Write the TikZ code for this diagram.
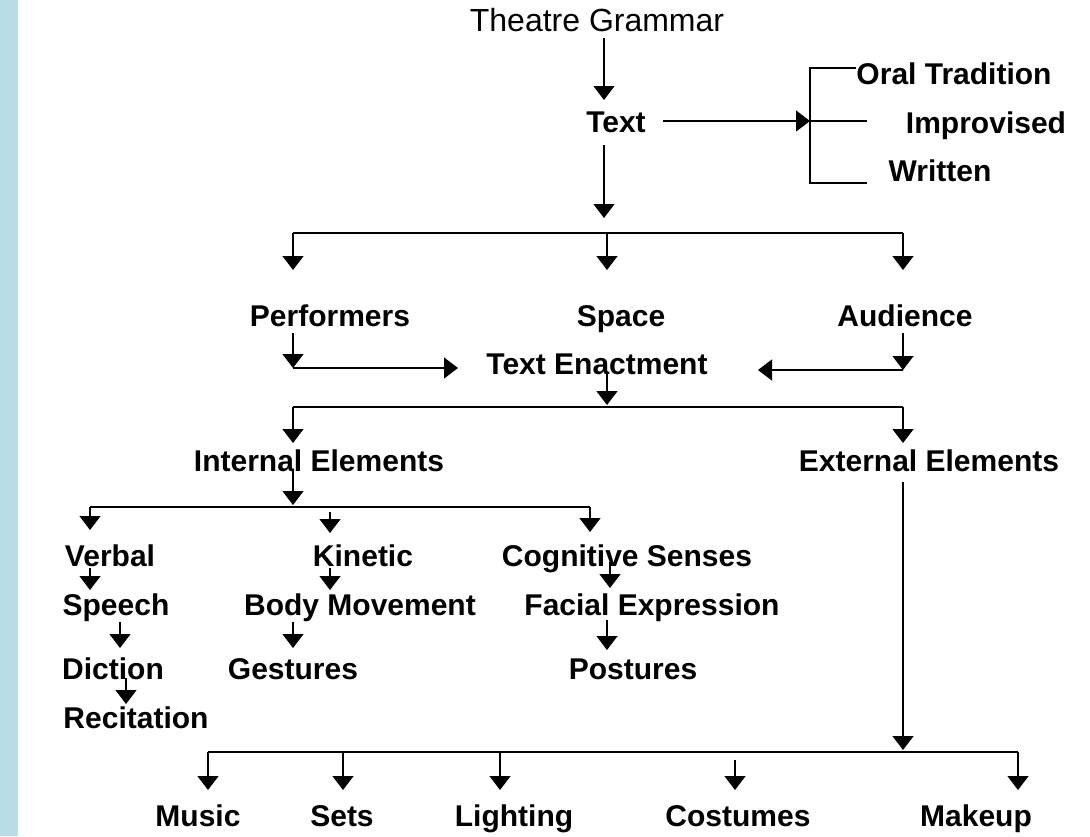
\documentclass[tikz,border=0pt]{standalone}
\usepackage{fontspec}
\setmainfont{Liberation Sans}
\usetikzlibrary{arrows.meta}
\definecolor{barblue}{RGB}{183,221,232}
\begin{document}
\begin{tikzpicture}[x=1pt,y=-1pt,
  lbl/.style={font=\fontsize{30}{30}\selectfont\bfseries, inner sep=0pt, anchor=base},
  plainlbl/.style={font=\fontsize{32}{32}\selectfont, inner sep=0pt, anchor=base},
  link/.style={line width=1.3pt, black},
  arr/.style={link, -{Triangle[length=14pt,width=21pt]}}]
\useasboundingbox (0,0) rectangle (1090,836);
\fill[barblue] (0,0) rectangle (18,836);

% labels
\node[plainlbl] (tg) at (597,31) {Theatre Grammar};
\node[lbl] (txt) at (616,132) {Text};
\node[lbl] (oral) at (954,84) {Oral Tradition};
\node[lbl] (impr) at (986,133) {Improvised};
\node[lbl] (writ) at (940,181) {Written};
\node[lbl] (perf) at (330,326) {Performers};
\node[lbl] (space) at (621,326) {Space};
\node[lbl] (aud) at (905,326) {Audience};
\node[lbl] (enact) at (597,374) {Text Enactment};
\node[lbl] (intl) at (319,471) {Internal Elements};
\node[lbl] (extl) at (929,471) {External Elements};
\node[lbl] (verbal) at (110,566) {Verbal};
\node[lbl] (kin) at (363,566) {Kinetic};
\node[lbl] (cog) at (627,566) {Cognitive Senses};
\node[lbl] (speech) at (116,615) {Speech};
\node[lbl] (body) at (360,615) {Body Movement};
\node[lbl] (facial) at (652,615) {Facial Expression};
\node[lbl] (diction) at (113,679) {Diction};
\node[lbl] (gest) at (293,679) {Gestures};
\node[lbl] (post) at (633,679) {Postures};
\node[lbl] (recit) at (136,728) {Recitation};
\node[lbl] (music) at (198,826) {Music};
\node[lbl] (sets) at (342,826) {Sets};
\node[lbl] (light) at (514,826) {Lighting};
\node[lbl] (cost) at (738,826) {Costumes};
\node[lbl] (make) at (976,826) {Makeup};

% junction points
\coordinate (tgOut) at (604,38);
\coordinate (txtIn) at (604,100);
\coordinate (txtR) at (663,121);
\coordinate (brM) at (810,121);
\coordinate (brT) at (810,68);
\coordinate (brB) at (810,183);
\coordinate (txtOut) at (604,145);
\coordinate (txtEnd) at (604,218);
\coordinate (busA) at (293,233);
\coordinate (busB) at (903,233);
\coordinate (perfOut) at (293,333);
\coordinate (perfCorner) at (293,368);
\coordinate (enactL) at (458,368);
\coordinate (audOut) at (903,333);
\coordinate (audCorner) at (903,370);
\coordinate (enactR) at (758,370);
\coordinate (enactOut) at (607,372);
\coordinate (enactEnd) at (607,405);
\coordinate (busC) at (293,407);
\coordinate (busD) at (903,407);
\coordinate (intlOut) at (293,470);
\coordinate (intlEnd) at (293,505);
\coordinate (busE) at (90,507);
\coordinate (busF) at (590,507);
\coordinate (extlOut) at (903,482);
\coordinate (extlEnd) at (903,750);
\coordinate (busG) at (208,752);
\coordinate (busH) at (1018,752);

% Theatre Grammar -> Text
\draw[arr] (tgOut) -- (txtIn);
% Text -> kinds of text
\draw[arr] (txtR) -- (brM);
\draw[link] (oral.west |- brT) -- (brT) -- (brB) -- ++(57,0);
\draw[link] (brM) -- ++(57,0);
% Text -> Performers / Space / Audience
\draw[arr] (txtOut) -- (txtEnd);
\draw[link] (busA) -- (busB);
\draw[arr] (busA) -- ++(0,37);
\draw[arr] (607,233) -- ++(0,37);
\draw[arr] (busB) -- ++(0,37);
% Performers and Audience -> Text Enactment
\draw[arr] (perfOut) -- (perfCorner);
\draw[arr] (perfCorner) -- (enactL);
\draw[arr] (audOut) -- (audCorner);
\draw[arr] (audCorner) -- (enactR);
% Text Enactment -> elements
\draw[arr] (enactOut) -- (enactEnd);
\draw[link] (busC) -- (busD);
\draw[arr] (busC) -- ++(0,36);
\draw[arr] (busD) -- ++(0,36);
% Internal Elements -> branches
\draw[arr] (intlOut) -- (intlEnd);
\draw[link] (busE) -- (busF);
\draw[arr] (busE) -- ++(0,23);
\draw[arr] (330,512) -- (330,533);
\draw[arr] (busF) -- ++(0,25);
% chains below each branch
\draw[arr] (90,568) -- (90,590);
\draw[arr] (330,568) -- (330,590);
\draw[arr] (610,562) -- (610,588);
\draw[arr] (120,622) -- (120,648);
\draw[arr] (293,622) -- (293,648);
\draw[arr] (607,620) -- (607,650);
\draw[arr] (126,678) -- (126,704);
% External Elements -> production elements
\draw[arr] (extlOut) -- (extlEnd);
\draw[link] (busG) -- (busH);
\draw[arr] (busG) -- ++(0,38);
\draw[arr] (343,752) -- ++(0,38);
\draw[arr] (500,752) -- ++(0,38);
\draw[arr] (735,760) -- (735,790);
\draw[arr] (busH) -- ++(0,38);
\end{tikzpicture}
\end{document}
